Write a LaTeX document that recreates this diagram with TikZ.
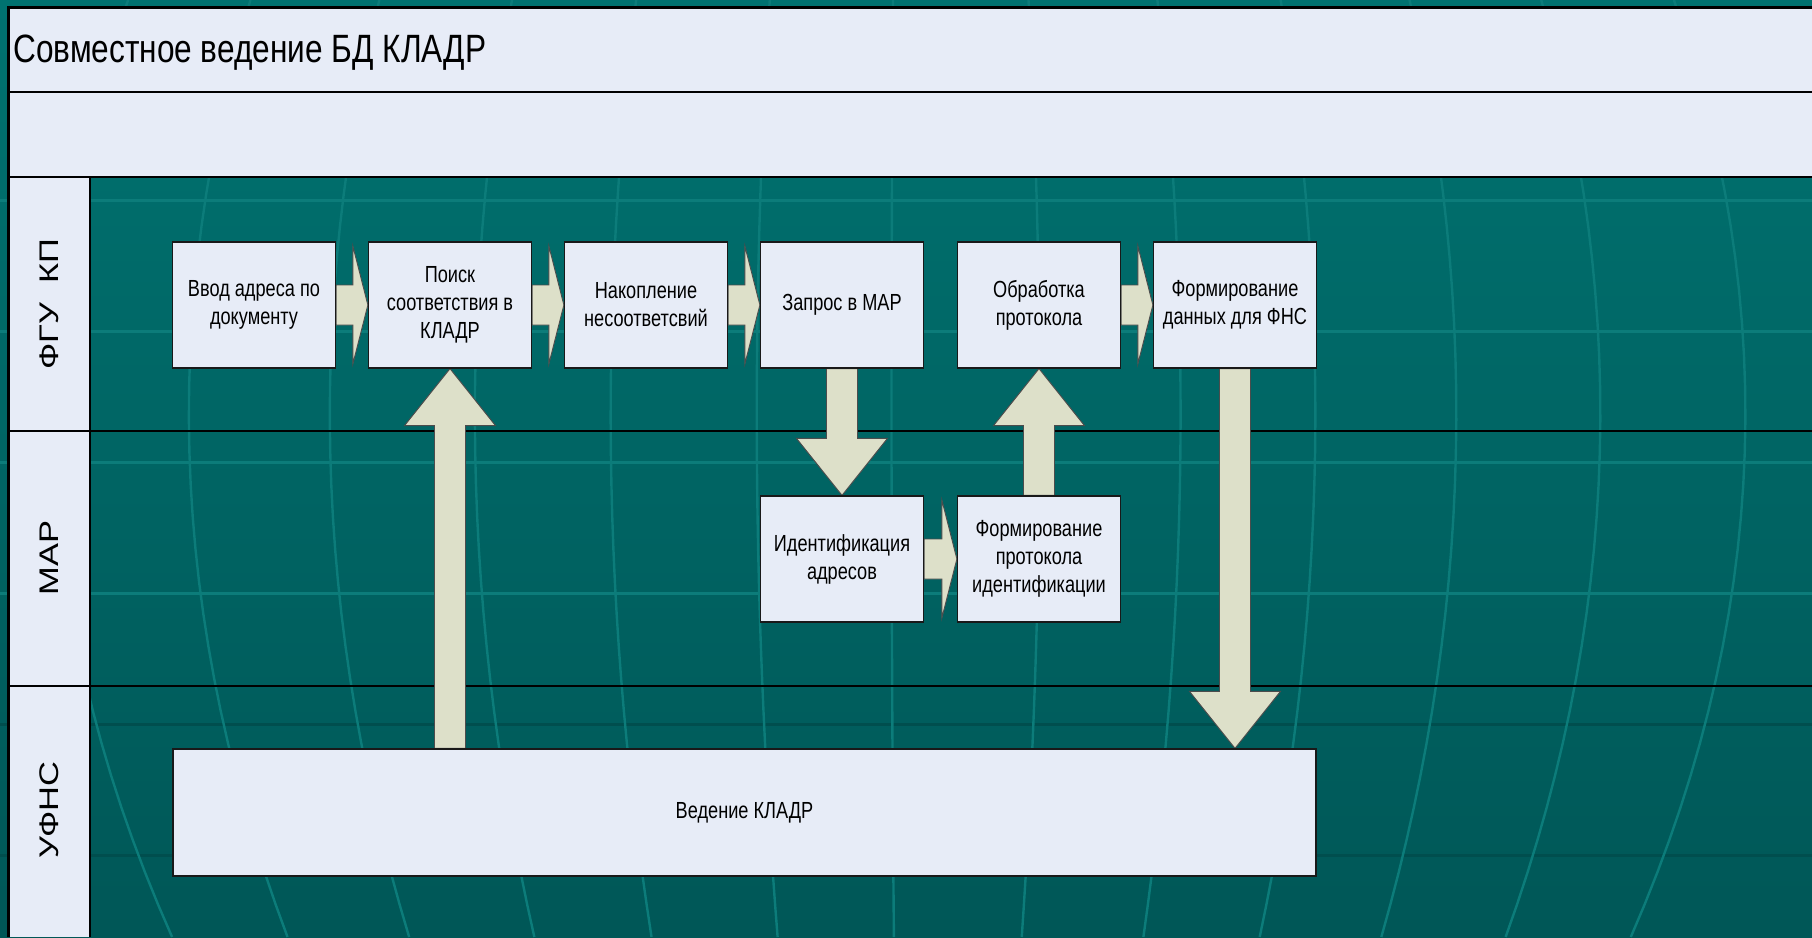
\documentclass[tikz,border=0pt]{standalone}
\usepackage{fontspec}
\setmainfont{Liberation Sans}
\newfontfamily\narrowfont[FakeStretch=0.78]{Liberation Sans}
\newfontfamily\titlenarrow[FakeStretch=0.80]{Liberation Sans}
\usetikzlibrary{calc}
\pgfdeclarelayer{bglayer}
\pgfdeclarelayer{arrlayer}
\pgfsetlayers{bglayer,arrlayer,main}

\definecolor{bgtop}{HTML}{007270}
\definecolor{bgbot}{HTML}{005757}
\definecolor{gridlight}{HTML}{0C7C7A}
\definecolor{griddark}{HTML}{004E4E}
\definecolor{panel}{HTML}{E7ECF7}
\definecolor{arrowfill}{HTML}{DDE0C9}

\newcommand\boxfont{\narrowfont\fontsize{23.3}{28}\selectfont}
\newcommand\titlefont{\titlenarrow\fontsize{39.5}{45}\selectfont}
\newcommand\lanefont{\fontsize{34.5}{40}\selectfont}

\tikzset{
  procbox/.style={draw=black!90, line width=1.3pt, fill=panel,
    minimum width=163pt, minimum height=126pt, inner sep=0pt,
    align=center, font=\boxfont},
  blockarrow/.style={fill=arrowfill, draw=black!70, line width=0.9pt, line join=miter},
  lanelabel/.style={inner sep=0pt},
  meridian/.style={draw=gridlight, line width=2.4pt},
  parlight/.style={draw=gridlight, line width=3pt},
  pardark/.style={draw=griddark, line width=3pt},
  frameline/.style={draw=black, line width=1.4pt},
}

% horizontal block arrow from #1.east to #2.west
\newcommand\hblockarrow[2]{%
  \draw[blockarrow] let \p1=(#1.east), \p2=(#2.west) in
    (\x1,\y1+20pt) -- (\x2-15pt,\y1+20pt) -- (\x2-15pt,\y1+59pt) --
    (\x2,\y1) -- (\x2-15pt,\y1-59pt) -- (\x2-15pt,\y1-20pt) --
    (\x1,\y1-20pt) -- cycle;}
% vertical block arrow from point #1 to tip #2
\newcommand\vblockarrow[2]{%
  \coordinate (vh) at ($(#2)!57pt!(#1)$);
  \draw[blockarrow] ($(#1)+(-15.5,0)$) -- ($(vh)+(-15.5,0)$) --
    ($(vh)+(-45.5,0)$) -- (#2) -- ($(vh)+(45.5,0)$) --
    ($(vh)+(15.5,0)$) -- ($(#1)+(15.5,0)$) -- cycle;}

\begin{document}
\begin{tikzpicture}[x=1pt,y=-1pt]
\useasboundingbox (0,0) rectangle (1812,937);

\begin{pgfonlayer}{bglayer}
  % slide background
  \shade[top color=bgtop, bottom color=bgbot] (0,0) rectangle (1812,937);
  % parallels
  \foreach \yy in {200,331,462,593} \draw[parlight] (0,\yy) -- (1812,\yy);
  \foreach \yy in {724,855} \draw[pardark] (0,\yy) -- (1812,\yy);
  % meridians
  \foreach \t in {79,209,346,487,619,761,892,1036,1173,1304,1441,1581,1722}
    \draw[meridian] plot[domain=0:937, samples=30, variable=\y]
      ({\t + (909-\t)*((\y-177)*0.0007155)*((\y-650)*0.0007155)}, \y);
  % frame and bands
  \fill[panel] (8,7) rectangle (1812,177);
  \fill[panel] (8,177) rectangle (90,937);
  \draw[frameline] (8,92) -- (1812,92);
  \draw[frameline] (8,177) -- (1812,177);
  \draw[frameline] (90,177) -- (90,937);
  \draw[frameline] (8,431) -- (1812,431);
  \draw[frameline] (8,686) -- (1812,686);
  \draw[line width=3pt] (8,937) -- (8,7) -- (1812,7);
\end{pgfonlayer}

% title and lane labels
\node[anchor=base west, inner sep=0pt, font=\titlefont] (title) at (13,62) {Совместное ведение БД КЛАДР};
\node[lanelabel] (lane1) at (49,304) {\scalebox{0.78}[1]{\rotatebox{90}{\lanefont ФГУ~~КП}}};
\node[lanelabel] (lane2) at (49,558) {\scalebox{0.78}[1]{\rotatebox{90}{\lanefont МАР}}};
\node[lanelabel] (lane3) at (49,810) {\scalebox{0.78}[1]{\rotatebox{90}{\lanefont УФНС}}};

% process boxes
\node[procbox] (b1) at (254,305) {Ввод адреса по\\документу};
\node[procbox] (b2) at (450,305) {Поиск\\соответствия в\\КЛАДР};
\node[procbox] (b3) at (646,305) {Накопление\\несоответсвий};
\node[procbox] (b4) at (842,305) {Запрос в МАР};
\node[procbox] (b5) at (1039,305) {Обработка\\протокола};
\node[procbox] (b6) at (1235,305) {Формирование\\данных для ФНС};
\node[procbox] (m1) at (842,559) {Идентификация\\адресов};
\node[procbox] (m2) at (1039,559) {Формирование\\протокола\\идентификации};
\node[procbox, minimum width=1143pt, minimum height=127pt] (big) at (744.5,812.5) {Ведение КЛАДР};

\coordinate (s1) at (b2.south |- big.north);
\coordinate (t4) at (b6.south |- big.north);

\begin{pgfonlayer}{arrlayer}
  \hblockarrow{b1}{b2}
  \hblockarrow{b2}{b3}
  \hblockarrow{b3}{b4}
  \hblockarrow{b5}{b6}
  \hblockarrow{m1}{m2}
  \vblockarrow{s1}{b2.south}
  \vblockarrow{b4.south}{m1.north}
  \vblockarrow{m2.north}{b5.south}
  \vblockarrow{b6.south}{t4}
\end{pgfonlayer}
\end{tikzpicture}
\end{document}
